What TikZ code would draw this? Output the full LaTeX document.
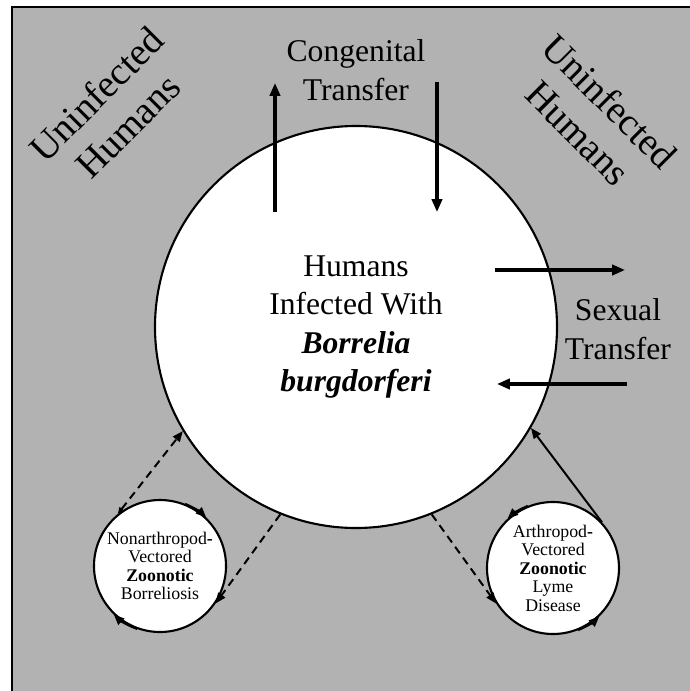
\documentclass[tikz,border=0pt]{standalone}
\usepackage{fontspec}
\setmainfont{Liberation Serif}
\usetikzlibrary{arrows.meta}
\definecolor{bggray}{gray}{0.70}

\begin{document}
\begin{tikzpicture}[scale=0.15]
	\tikzstyle{every node}+=[inner sep=0pt]
	\tikzstyle{host}=[draw=black, fill=white, circle, line width=0.9pt]
	\tikzstyle{bigtxt}=[font=\fontsize{13.5}{16.5}\selectfont, align=center]
	\tikzstyle{uninf}=[font=\fontsize{16.5}{19}\selectfont, align=center]
	\tikzstyle{smalltxt}=[font=\fontsize{7.6}{7.9}\selectfont, align=center]
	\tikzstyle{flow}=[line width=1.3pt, -{Triangle[length=5.5pt,width=4.4pt]}]
	\tikzstyle{link}=[line width=0.85pt, -{Triangle[length=4.5pt,width=3.6pt]}]
	\tikzstyle{dashlink}=[link, dash pattern=on 3.4pt off 2.3pt]
	\useasboundingbox (0,0) rectangle (69,-69.1);
	\draw [black, line width=1pt, fill=bggray] (1.2,-0.7) rectangle (70,-70);
	% circles
	\node [host, minimum size=6.03cm, bigtxt] (infected) at (35.6,-32.7) {Humans\\Infected With\\\textbf{\textit{Borrelia}}\\\textbf{\textit{burgdorferi}}};
	\node [host, minimum size=1.98cm, smalltxt] (nonarth) at (16.0,-56.6) {Nonarthropod\textbf{-}\\Vectored\\\textbf{Zoonotic}\\Borreliosis};
	\node [host, minimum size=1.98cm, smalltxt] (arth) at (55.3,-56.8) {Arthropod\textbf{-}\\Vectored\\\textbf{Zoonotic}\\Lyme\\Disease};
	% labels
	\node [bigtxt] (congenital) at (35.6,-7.0) {Congenital\\Transfer};
	\node [bigtxt] (sexual) at (61.8,-32.9) {Sexual\\Transfer};
	\node [uninf, rotate=45] (uninfL) at (11.2,-11.0) {Uninfected\\Humans};
	\node [uninf, rotate=-45] (uninfR) at (59.4,-11.7) {Uninfected\\Humans};
	% transfer arrows
	\coordinate (cgUpA) at (27.5,-21.2);
	\coordinate (cgUpB) at (27.5,-8.3);
	\coordinate (cgDnA) at (43.7,-8.2);
	\coordinate (cgDnB) at (43.7,-21.2);
	\coordinate (sxOutA) at (49.5,-27.0);
	\coordinate (sxOutB) at (62.5,-27.0);
	\coordinate (sxInA) at (62.7,-38.4);
	\coordinate (sxInB) at (49.7,-38.4);
	\draw [flow] (cgUpA) -- (cgUpB);
	\draw [flow] (cgDnA) -- (cgDnB);
	\draw [flow] (sxOutA) -- (sxOutB);
	\draw [flow] (sxInA) -- (sxInB);
	% zoonotic links
	\draw [dashlink, {Triangle[length=2.8pt,width=2.4pt]}-{Triangle[length=4.5pt,width=3.6pt]}] (nonarth.129) -- (infected.211);
	\draw [dashlink] (infected.248) -- (nonarth.326);
	\draw [dashlink] (infected.292) -- (arth.212);
	\draw [link] (arth.43) -- (infected.330);
	% cycles
	\draw [link] (nonarth.68) arc [start angle=68, end angle=46, radius=6.6];
	\draw [link] (nonarth.250) arc [start angle=250, end angle=226, radius=6.6];
	\draw [link] (arth.112) arc [start angle=112, end angle=133, radius=6.6];
	\draw [link] (arth.292) arc [start angle=292, end angle=314, radius=6.6];
\end{tikzpicture}
\end{document}
